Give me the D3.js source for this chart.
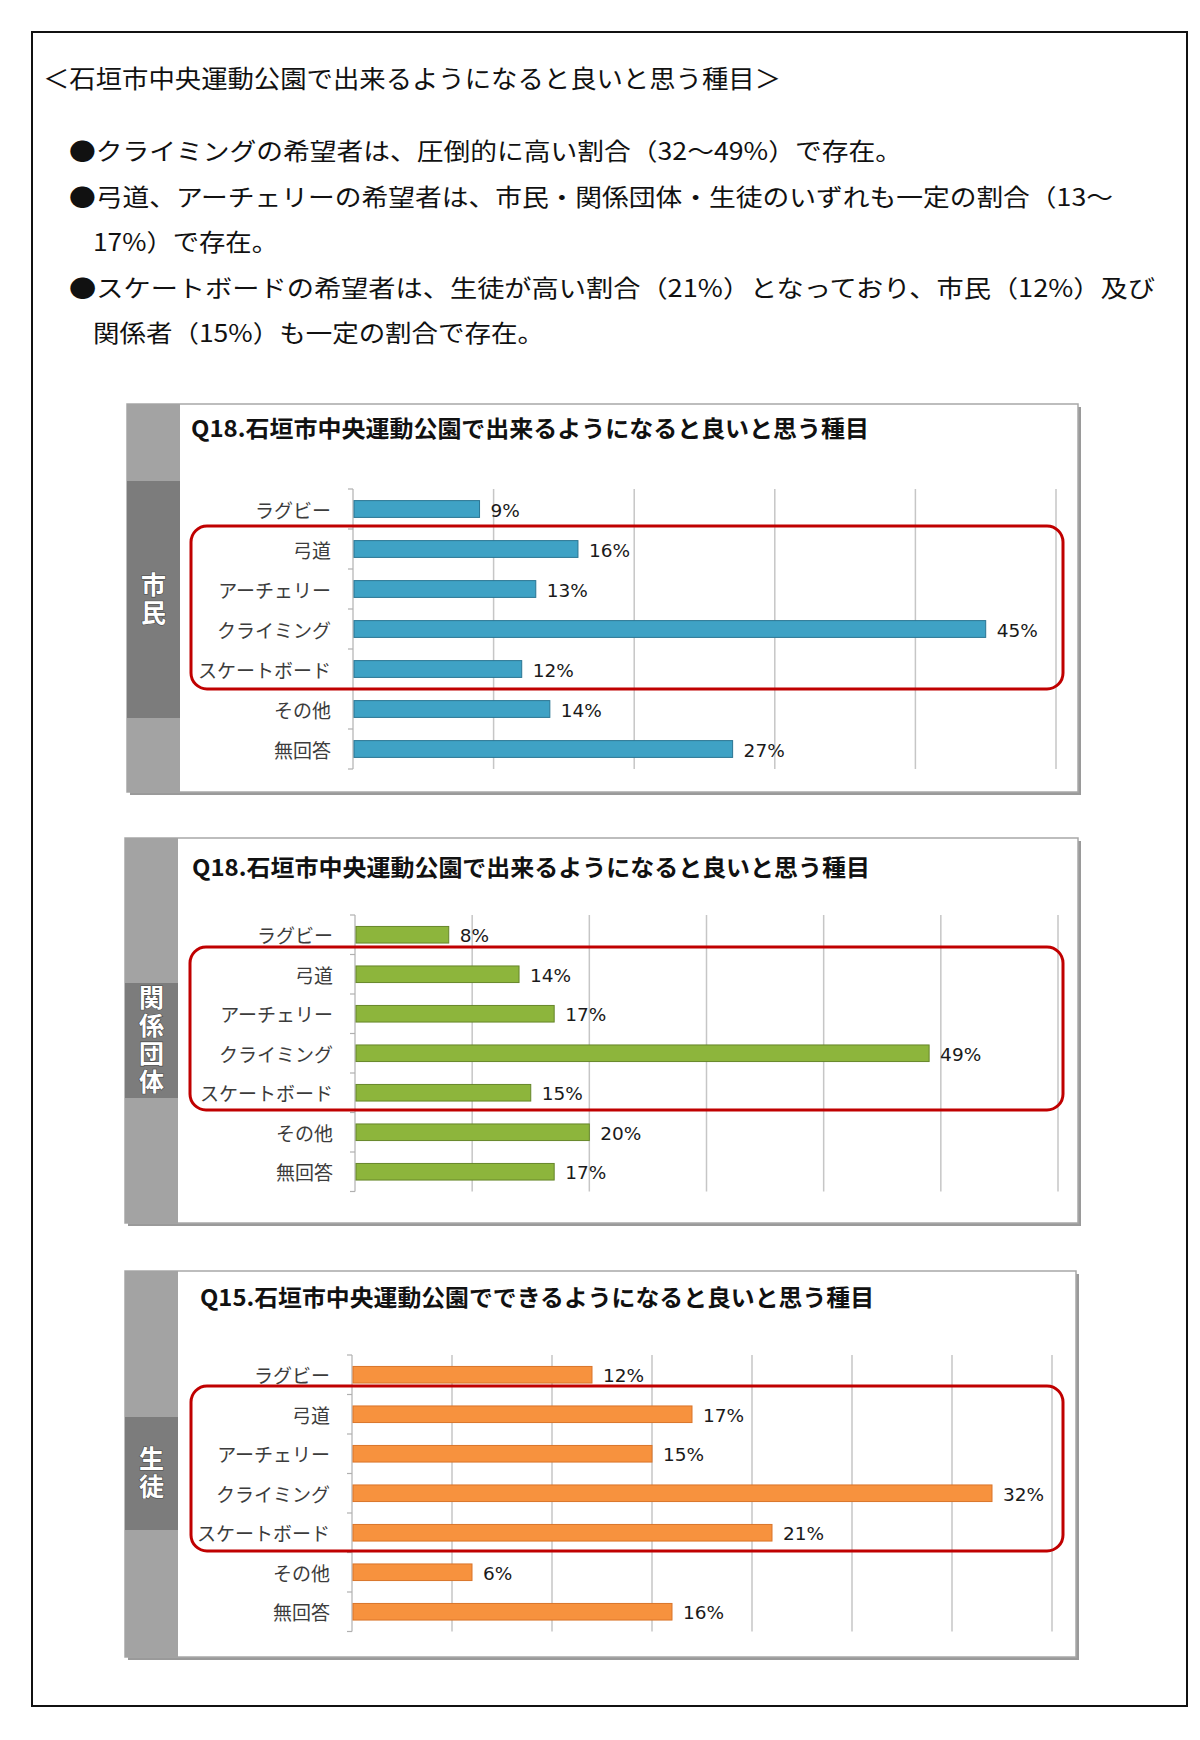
<!DOCTYPE html>
<html lang="ja">
<head>
<meta charset="utf-8">
<script src="https://cdn.jsdelivr.net/npm/d3@7"></script>
<style>
  html, body { margin: 0; padding: 0; background: #fff; }
  svg { display: block; }
</style>
</head>
<body>
<svg id="chart" width="1200" height="1740"></svg>
<script>
// ---------- DATA ----------
const categories = ["ラグビー", "弓道", "アーチェリー", "クライミング", "スケートボード", "その他", "無回答"];
const citizenValues = [9, 16, 13, 45, 12, 14, 27];      // 市民
const groupValues   = [8, 14, 17, 49, 15, 20, 17];      // 関係団体
const studentValues = [12, 17, 15, 32, 21, 6, 16];      // 生徒
const panelTitles = [
  "Q18.石垣市中央運動公園で出来るようになると良いと思う種目",
  "Q18.石垣市中央運動公園で出来るようになると良いと思う種目",
  "Q15.石垣市中央運動公園でできるようになると良いと思う種目"
];
const sideLabels = ["市民", "関係団体", "生徒"];
const axisMaxima = [50, 60, 35];
const tickSteps = [10, 10, 5];
const headerTitle = "＜石垣市中央運動公園で出来るようになると良いと思う種目＞";
const bulletLines = [
  "●クライミングの希望者は、圧倒的に高い割合（32～49%）で存在。",
  "●弓道、アーチェリーの希望者は、市民・関係団体・生徒のいずれも一定の割合（13～",
  "17%）で存在。",
  "●スケートボードの希望者は、生徒が高い割合（21%）となっており、市民（12%）及び",
  "関係者（15%）も一定の割合で存在。"
];

// ---------- LAYOUT ----------
const JP = "'Noto Sans CJK JP', 'Noto Sans', sans-serif";
const svg = d3.select("#chart");
svg.append("rect").attr("width", 1200).attr("height", 1740).attr("fill", "#fff");

// outer frame
svg.append("rect").attr("x", 32).attr("y", 32).attr("width", 1155).attr("height", 1674)
  .attr("fill", "none").attr("stroke", "#111").attr("stroke-width", 2);

// header
svg.append("text").attr("x", 43).attr("y", 88)
  .attr("font-family", JP).attr("font-size", 25).attr("fill", "#111")
  .attr("textLength", 738).attr("lengthAdjust", "spacingAndGlyphs")
  .text(headerTitle);

const bulletLayout = [
  { x: 69, y: 160, w: 833 },
  { x: 69, y: 206, w: 1044 },
  { x: 93, y: 251, w: 185 },
  { x: 69, y: 297, w: 1086 },
  { x: 93, y: 342, w: 451 }
];
bulletLines.forEach((t, i) => {
  const L = bulletLayout[i];
  svg.append("text").attr("x", L.x).attr("y", L.y)
    .attr("font-family", JP).attr("font-size", 24).attr("fill", "#111")
    .attr("textLength", L.w).attr("lengthAdjust", "spacingAndGlyphs")
    .text(t);
});

const panels = [
  { values: citizenValues, color: "#3fa2c5", edge: "#2a7593",
    box: { x: 127, y: 404, w: 951, h: 388 }, dark: [481, 718],
    titleX: 191, titleY: 437, titleW: 678,
    top: 489, step: 40, x0: 353, x1: 1056,
    red: { x: 191, y: 526, w: 872, h: 163 } },
  { values: groupValues, color: "#8db53c", edge: "#66862a",
    box: { x: 125, y: 838, w: 953, h: 385 }, dark: [983, 1098],
    titleX: 192, titleY: 876, titleW: 678,
    top: 915, step: 39.5, x0: 355, x1: 1058,
    red: { x: 190, y: 947, w: 873, h: 163 } },
  { values: studentValues, color: "#f7923e", edge: "#d9742a",
    box: { x: 125, y: 1271, w: 951, h: 386 }, dark: [1417, 1530],
    titleX: 200, titleY: 1306, titleW: 674,
    top: 1355, step: 39.5, x0: 352, x1: 1052,
    red: { x: 191, y: 1386, w: 872, h: 165 } }
];

panels.forEach((p, pi) => {
  const g = svg.append("g");
  const b = p.box;
  // shadow
  g.append("rect").attr("x", b.x + 3).attr("y", b.y + 3).attr("width", b.w).attr("height", b.h)
    .attr("fill", "#9a9a9a");
  g.append("rect").attr("x", b.x).attr("y", b.y).attr("width", b.w).attr("height", b.h)
    .attr("fill", "#fff").attr("stroke", "#a8a8a8").attr("stroke-width", 1.5);
  // side band
  g.append("rect").attr("x", b.x).attr("y", b.y).attr("width", 53).attr("height", b.h)
    .attr("fill", "#a3a3a3");
  g.append("rect").attr("x", b.x).attr("y", p.dark[0]).attr("width", 53).attr("height", p.dark[1] - p.dark[0])
    .attr("fill", "#7c7c7c");
  // vertical side label (single text, vertical writing mode)
  g.append("text")
    .attr("x", b.x + 26.5).attr("y", (p.dark[0] + p.dark[1]) / 2)
    .attr("writing-mode", "tb")
    .style("writing-mode", "vertical-rl")
    .attr("text-anchor", "middle")
    .attr("font-family", JP).attr("font-size", 25).attr("font-weight", "bold")
    .attr("letter-spacing", 3)
    .attr("fill", "#fff").attr("stroke", "#4a4a4a").attr("stroke-width", 1.2)
    .attr("paint-order", "stroke")
    .text(sideLabels[pi]);

  // title
  g.append("text").attr("x", p.titleX).attr("y", p.titleY)
    .attr("font-family", JP).attr("font-size", 23).attr("font-weight", "bold").attr("fill", "#111")
    .attr("textLength", p.titleW).attr("lengthAdjust", "spacingAndGlyphs")
    .text(panelTitles[pi]);

  // scales
  const bottom = p.top + p.step * categories.length;
  const x = d3.scaleLinear().domain([0, axisMaxima[pi]]).range([p.x0, p.x1]);
  const y = d3.scaleBand().domain(categories).range([p.top, bottom]).paddingInner(0.58).paddingOuter(0.29);
  const ticks = d3.range(0, axisMaxima[pi] + 0.001, tickSteps[pi]);

  // gridlines
  g.append("g").selectAll("line").data(ticks.filter(t => t > 0)).join("line")
    .attr("x1", d => x(d)).attr("x2", d => x(d))
    .attr("y1", p.top).attr("y2", bottom)
    .attr("stroke", "#c6c6c6").attr("stroke-width", 1.5);

  // y axis line + ticks at band boundaries
  g.append("line").attr("x1", p.x0).attr("x2", p.x0).attr("y1", p.top).attr("y2", bottom)
    .attr("stroke", "#c0c0c0").attr("stroke-width", 1.5);
  const bounds = d3.range(categories.length + 1).map(i => p.top + i * p.step);
  g.append("g").selectAll("line").data(bounds).join("line")
    .attr("x1", p.x0 - 5).attr("x2", p.x0).attr("y1", d => d).attr("y2", d => d)
    .attr("stroke", "#b0b0b0").attr("stroke-width", 1.2);

  // category labels
  g.append("g").selectAll("text").data(categories).join("text")
    .attr("x", p.x0 - 22).attr("y", d => y(d) + y.bandwidth() / 2)
    .attr("text-anchor", "end").attr("dominant-baseline", "central")
    .attr("font-family", JP).attr("font-size", 19).attr("fill", "#3c3c3c")
    .text(d => d);

  // bars
  g.append("g").selectAll("rect").data(p.values).join("rect")
    .attr("x", x(0) + 1).attr("y", (d, i) => y(categories[i]))
    .attr("width", d => x(d) - x(0) - 1).attr("height", y.bandwidth())
    .attr("fill", p.color).attr("stroke", p.edge).attr("stroke-width", 1);

  // value labels
  g.append("g").selectAll("text").data(p.values).join("text")
    .attr("x", d => x(d) + 11).attr("y", (d, i) => y(categories[i]) + y.bandwidth() / 2 + 1)
    .attr("dominant-baseline", "central")
    .attr("font-family", "'DejaVu Sans', Verdana, sans-serif").attr("font-size", 18.5)
    .attr("fill", "#1a1a1a")
    .text(d => d + "%");

  // red highlight
  g.append("rect").attr("x", p.red.x).attr("y", p.red.y).attr("width", p.red.w).attr("height", p.red.h)
    .attr("rx", 16).attr("ry", 16)
    .attr("fill", "none").attr("stroke", "#c00000").attr("stroke-width", 3);
});
</script>
</body>
</html>
